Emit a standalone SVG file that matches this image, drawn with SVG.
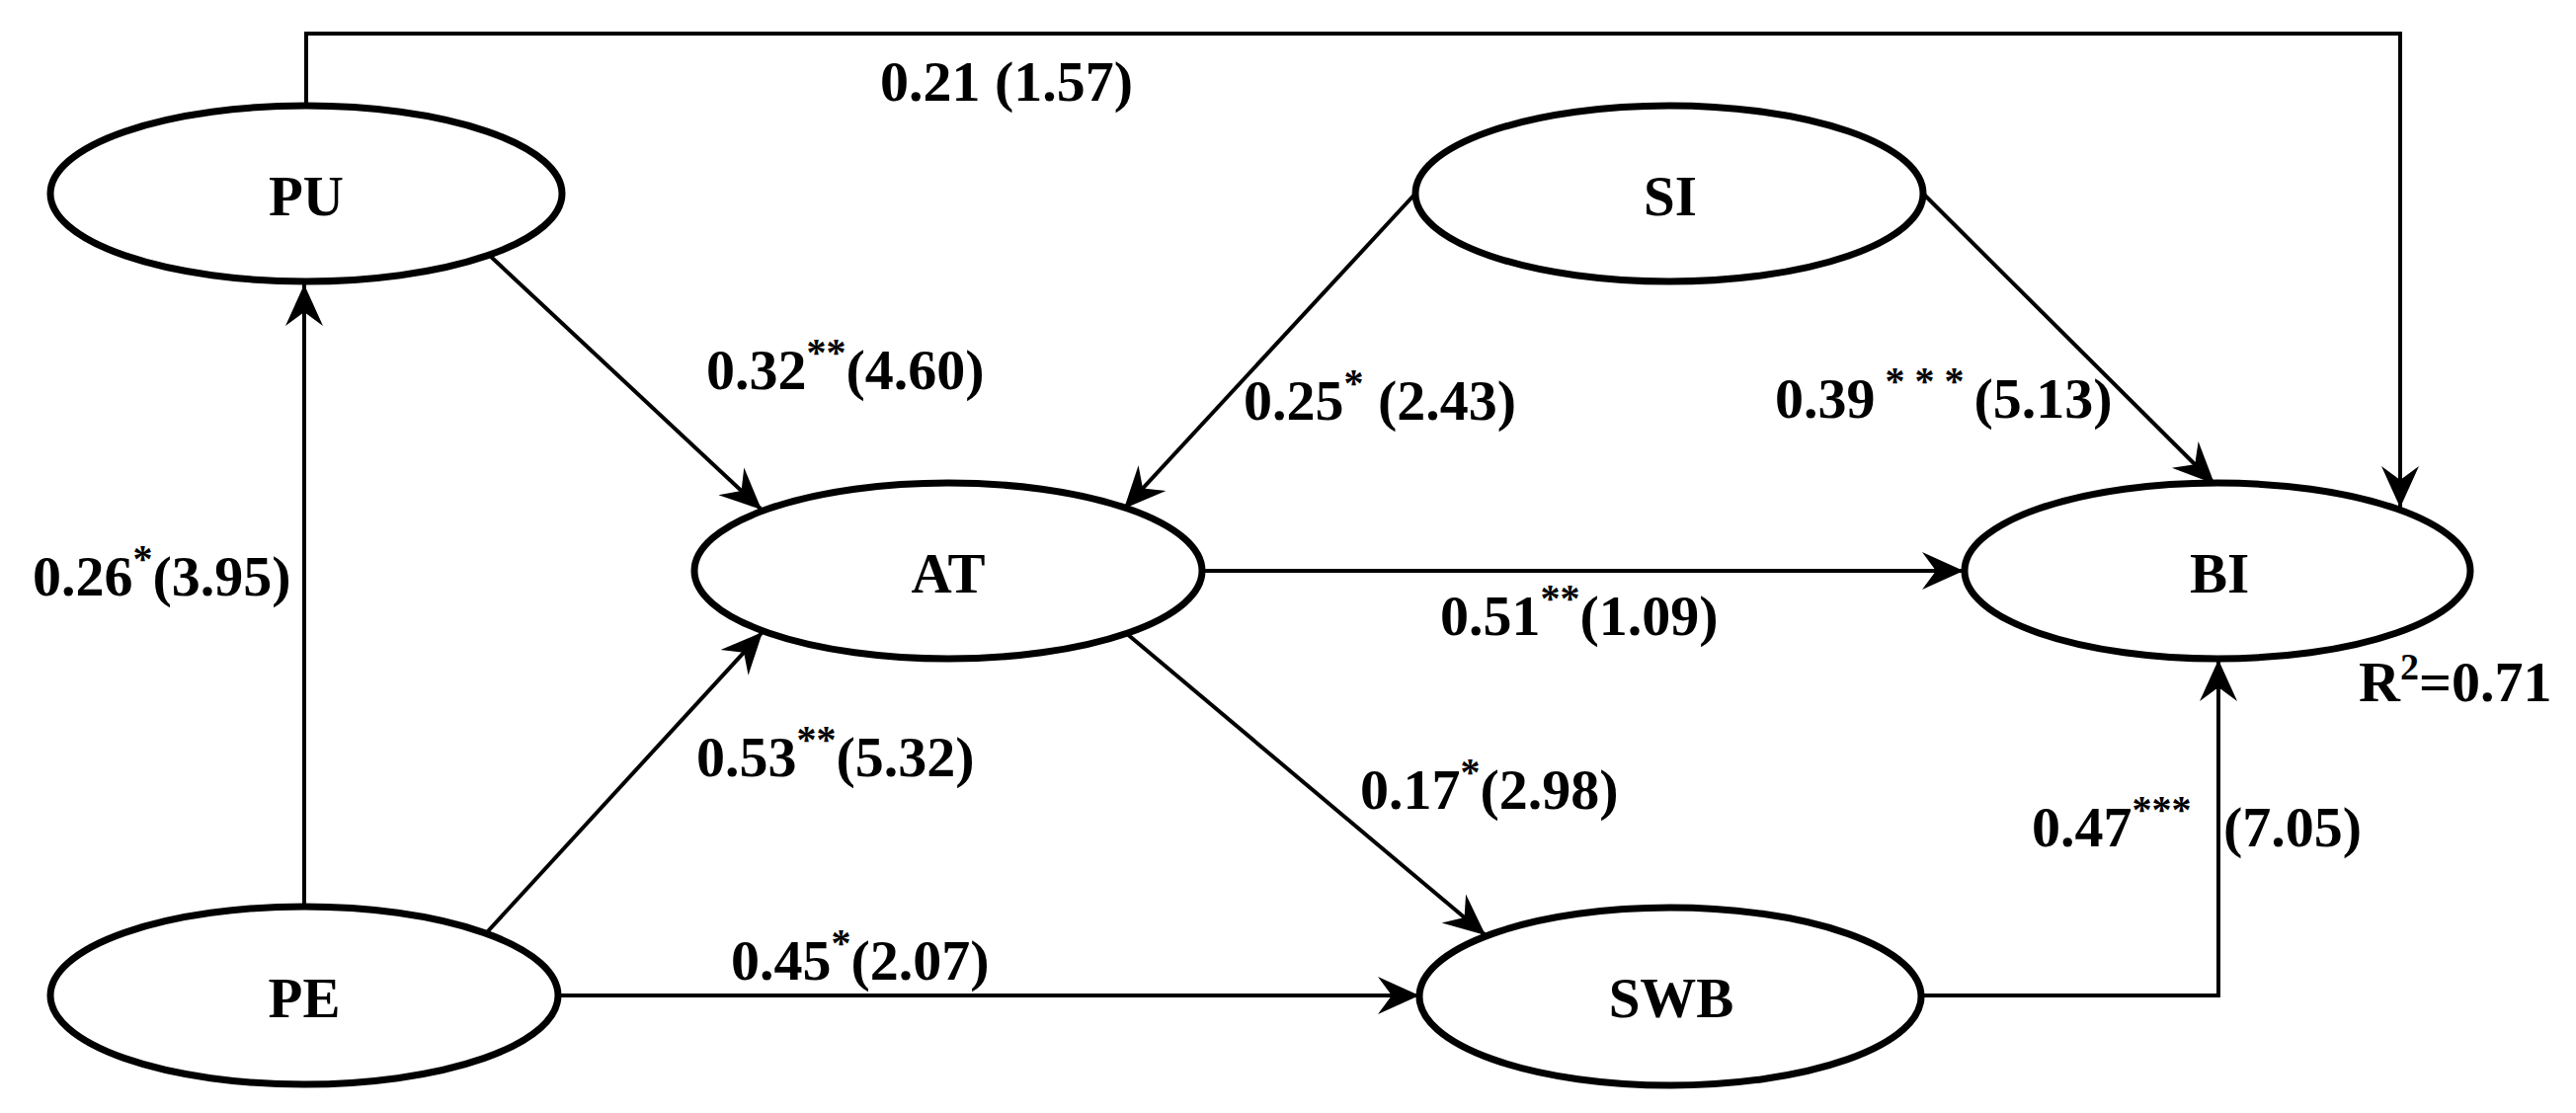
<svg xmlns="http://www.w3.org/2000/svg" width="2608" height="1127" viewBox="0 0 2608 1127">
<defs>
<style>
.node{fill:#fff;stroke:#000;stroke-width:7}
.lbl{font-family:"Liberation Serif","Times New Roman",serif;font-weight:bold;font-size:58px;fill:#000}
.nt{text-anchor:middle;font-size:57px}
.c{fill:none;stroke:#000;stroke-width:4}
</style>
<marker id="ah" viewBox="0 -20 42 40" refX="42" refY="0" markerWidth="42" markerHeight="40" markerUnits="userSpaceOnUse" orient="auto">
<path d="M42,0 L0,-19 L14,0 L0,19 Z" fill="#000"/>
</marker>
</defs>
<rect width="2608" height="1127" fill="#fff"/>
<g id="connectors">
<polyline class="c" points="310,107 310,34 2430,34 2430,514" marker-end="url(#ah)"/>
<line class="c" x1="496" y1="259" x2="771" y2="516" marker-end="url(#ah)"/>
<line class="c" x1="1433" y1="196" x2="1138" y2="515" marker-end="url(#ah)"/>
<line class="c" x1="1947" y1="196" x2="2242" y2="490" marker-end="url(#ah)"/>
<line class="c" x1="308" y1="918" x2="308" y2="288" marker-end="url(#ah)"/>
<line class="c" x1="493" y1="944" x2="772" y2="640" marker-end="url(#ah)"/>
<line class="c" x1="1217" y1="578" x2="1988" y2="578" marker-end="url(#ah)"/>
<line class="c" x1="1140" y1="641" x2="1504" y2="947" marker-end="url(#ah)"/>
<line class="c" x1="565" y1="1008" x2="1437" y2="1008" marker-end="url(#ah)"/>
<polyline class="c" points="1945,1008 2246,1008 2246,668" marker-end="url(#ah)"/>
</g>
<g id="PU"><ellipse class="node" cx="310" cy="196" rx="259" ry="89"/><text class="lbl nt" x="310" y="218">PU</text></g>
<g id="SI"><ellipse class="node" cx="1690" cy="196" rx="257" ry="89"/><text class="lbl nt" x="1691" y="218">SI</text></g>
<g id="AT"><ellipse class="node" cx="960" cy="578" rx="257" ry="89"/><text class="lbl nt" x="960" y="600">AT</text></g>
<g id="BI"><ellipse class="node" cx="2245" cy="578" rx="256" ry="89"/><text class="lbl nt" x="2247" y="600">BI</text></g>
<g id="PE"><ellipse class="node" cx="308" cy="1008" rx="257" ry="90"/><text class="lbl nt" x="308" y="1030">PE</text></g>
<g id="SWB"><ellipse class="node" cx="1691" cy="1009" rx="254" ry="90"/><text class="lbl nt" x="1692" y="1030">SWB</text></g>
<g id="labels">
<text class="lbl" x="891" y="102">0.21 (1.57)</text>
<text class="lbl" x="715" y="394">0.32<tspan dy="-24" font-size="40">**</tspan><tspan dy="24">(4.60)</tspan></text>
<text class="lbl" x="1259" y="425">0.25<tspan dy="-24" font-size="40">*</tspan><tspan dy="24"> (2.43)</tspan></text>
<text class="lbl" x="1797" y="423">0.39<tspan dy="-24" font-size="40"> * * * </tspan><tspan dy="24">(5.13)</tspan></text>
<text class="lbl" x="33" y="603">0.26<tspan dy="-24" font-size="40">*</tspan><tspan dy="24">(3.95)</tspan></text>
<text class="lbl" x="1458" y="643">0.51<tspan dy="-24" font-size="40">**</tspan><tspan dy="24">(1.09)</tspan></text>
<text class="lbl" x="2388" y="710">R<tspan dy="-22" font-size="38">2</tspan><tspan dy="22">=0.71</tspan></text>
<text class="lbl" x="705" y="786">0.53<tspan dy="-24" font-size="40">**</tspan><tspan dy="24">(5.32)</tspan></text>
<text class="lbl" x="1377" y="819">0.17<tspan dy="-24" font-size="40">*</tspan><tspan dy="24">(2.98)</tspan></text>
<text class="lbl" x="2057" y="857">0.47<tspan dy="-24" font-size="40">***</tspan><tspan x="2251" dy="24">(7.05)</tspan></text>
<text class="lbl" x="740" y="992">0.45<tspan dy="-24" font-size="40">*</tspan><tspan dy="24">(2.07)</tspan></text>
</g>
</svg>
